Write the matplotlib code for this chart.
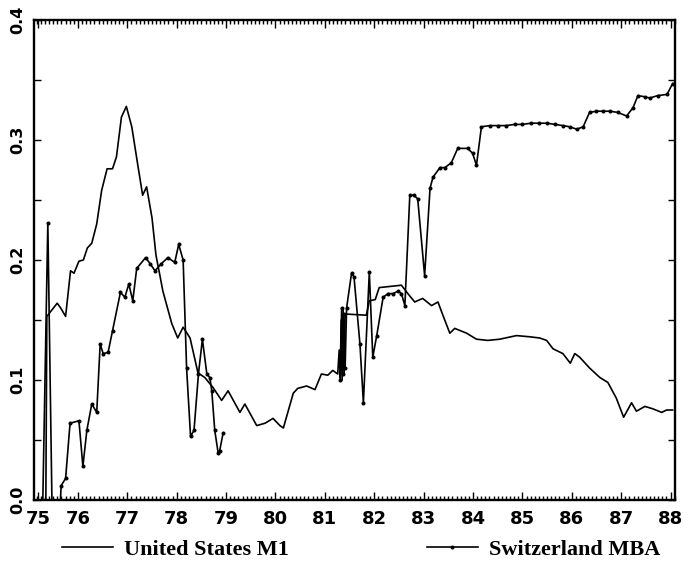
"""
 Money velocity style chart: United States M1 vs Switzerland MBA, 1975-1988
"""
import numpy as np
import matplotlib
matplotlib.use("Agg")
import matplotlib.pyplot as plt
from matplotlib.ticker import MultipleLocator, FixedLocator
from matplotlib.lines import Line2D

# United States M1 (year, value)
us_years = [75.35, 75.37, 75.58, 75.65, 75.75, 75.85, 75.92, 76.02, 76.11, 76.19,
            76.28, 76.38, 76.48, 76.59, 76.70, 76.78, 76.88, 76.98, 77.09, 77.22,
            77.31, 77.39, 77.50, 77.58, 77.66, 77.72, 77.90, 78.02, 78.13, 78.27,
            78.43, 78.57, 78.73, 78.91, 79.04, 79.28, 79.38, 79.62, 79.79, 79.95,
            80.09, 80.16, 80.36, 80.45, 80.63, 80.80, 80.93, 81.06, 81.16, 81.26,
            81.29, 81.31, 81.33, 81.35, 81.37, 81.39, 81.41, 81.84, 81.90, 82.02,
            82.10, 82.55, 82.68, 82.82, 82.98, 83.16, 83.29, 83.39, 83.53, 83.63,
            83.87, 84.07, 84.30, 84.54, 84.88, 85.15, 85.35, 85.49, 85.62, 85.82,
            85.97, 86.06, 86.16, 86.36, 86.57, 86.73, 86.90, 87.05, 87.21, 87.31,
            87.48, 87.64, 87.82, 87.92, 88.04]
us_values = [0.000, 0.153, 0.164, 0.160, 0.153, 0.191, 0.189, 0.199, 0.200, 0.210,
             0.214, 0.230, 0.258, 0.276, 0.276, 0.286, 0.319, 0.328, 0.311, 0.277,
             0.254, 0.261, 0.235, 0.204, 0.187, 0.174, 0.147, 0.135, 0.144, 0.135,
             0.106, 0.102, 0.094, 0.083, 0.091, 0.073, 0.080, 0.062, 0.064, 0.068,
             0.062, 0.060, 0.089, 0.093, 0.095, 0.092, 0.105, 0.104, 0.108, 0.105,
             0.125, 0.102, 0.150, 0.100, 0.158, 0.104, 0.155, 0.154, 0.166, 0.167,
             0.177, 0.179, 0.172, 0.165, 0.168, 0.162, 0.165, 0.154, 0.139, 0.143,
             0.139, 0.134, 0.133, 0.134, 0.137, 0.136, 0.135, 0.133, 0.126, 0.122,
             0.114, 0.122, 0.119, 0.110, 0.102, 0.098, 0.085, 0.069, 0.081, 0.074,
             0.078, 0.076, 0.073, 0.075, 0.075]

# Switzerland MBA (year, value); nan marks the gap 1979-1981
ch_years = [75.28, 75.39, 75.48, 75.62, 75.66, 75.75, 75.84, 76.02, 76.10, 76.18,
            76.28, 76.38, 76.45, 76.51, 76.61, 76.70, 76.86, 76.95, 77.03, 77.11,
            77.19, 77.37, 77.46, 77.56, 77.69, 77.82, 77.96, 78.04, 78.13, 78.20,
            78.28, 78.35, 78.44, 78.52, 78.61, 78.67, 78.71, 78.77, 78.84, 78.87,
            78.94, 80.00,
            81.31, 81.34, 81.36, 81.38, 81.41, 81.44, 81.54, 81.59, 81.71, 81.78,
            81.90, 81.97, 82.05, 82.18, 82.28, 82.38, 82.48, 82.55, 82.62, 82.72,
            82.80, 82.88, 83.02, 83.13, 83.19, 83.33, 83.43, 83.56, 83.69, 83.89,
            83.99, 84.07, 84.17, 84.34, 84.50, 84.67, 84.84, 85.00, 85.17, 85.33,
            85.50, 85.66, 85.82, 85.96, 86.10, 86.23, 86.36, 86.50, 86.63, 86.77,
            86.93, 87.11, 87.24, 87.34, 87.48, 87.58, 87.74, 87.93, 88.04]
ch_values = [-0.02, 0.231, -0.02, -0.02, 0.012, 0.018, 0.064, 0.066, 0.028, 0.058,
             0.080, 0.073, 0.130, 0.122, 0.123, 0.141, 0.173, 0.169, 0.180, 0.166,
             0.193, 0.202, 0.197, 0.191, 0.197, 0.202, 0.198, 0.213, 0.200, 0.110,
             0.053, 0.058, 0.105, 0.134, 0.105, 0.102, 0.091, 0.058, 0.039, 0.041,
             0.056, np.nan,
             0.100, 0.160, 0.105, 0.155, 0.110, 0.160, 0.189, 0.186, 0.130, 0.081,
             0.190, 0.119, 0.137, 0.169, 0.172, 0.172, 0.174, 0.172, 0.162, 0.254,
             0.254, 0.251, 0.187, 0.260, 0.269, 0.277, 0.277, 0.281, 0.293, 0.293,
             0.289, 0.279, 0.311, 0.312, 0.312, 0.312, 0.313, 0.313, 0.314, 0.314,
             0.314, 0.313, 0.312, 0.311, 0.309, 0.311, 0.323, 0.324, 0.324, 0.324,
             0.323, 0.320, 0.327, 0.337, 0.336, 0.335, 0.337, 0.338, 0.347]

year_labels = ['75', '76', '77', '78', '79', '80', '81', '82', '83', '84', '85', '86', '87', '88']
year_ticks = [75.2] + list(range(76, 89))
y_ticks = [0.0, 0.1, 0.2, 0.3, 0.4]


fig = plt.figure(figsize=(6.88, 5.67), dpi=100)
ax = fig.add_axes([34 / 688, 1 - 500 / 567, (675 - 34) / 688, (500 - 20) / 567])

ax.plot(us_years, us_values, color='black', lw=1.2, label='United States M1')
ax.plot(ch_years, ch_values, color='black', lw=1.2, marker='o', markersize=1.9,
        label='Switzerland MBA')

ax.set_xlim(75.11, 88.09)
ax.set_ylim(0, 0.4)

ax.xaxis.set_major_locator(FixedLocator(year_ticks))
ax.set_xticklabels(year_labels)
ax.xaxis.set_minor_locator(MultipleLocator(1 / 12))
ax.set_yticks(y_ticks)
ax.set_yticklabels(['%.1f' % v for v in y_ticks], rotation=90, va='center')
ax.yaxis.set_minor_locator(MultipleLocator(0.05))

ax.tick_params(axis='both', which='both', direction='in', top=True, right=True,
               width=1.0, colors='black')
ax.tick_params(axis='x', which='major', length=6, pad=7)
ax.tick_params(axis='x', which='minor', length=3)
ax.tick_params(axis='y', which='major', length=5, pad=6)
ax.tick_params(axis='y', which='minor', length=5)

for lab in ax.get_xticklabels():
    lab.set_fontsize(13)
    lab.set_fontweight('bold')
    lab.set_family('DejaVu Sans')
for lab in ax.get_yticklabels():
    lab.set_fontsize(11.5)
    lab.set_fontweight('bold')
    lab.set_family('DejaVu Sans')

for sp in ax.spines.values():
    sp.set_linewidth(1.7)

fig.legend(handles=[Line2D([], [], color='black', lw=1.2),
                    Line2D([], [], color='black', lw=1.2, marker='o', markersize=1.9)],
           labels=['United States M1', 'Switzerland MBA'],
           loc='center', bbox_to_anchor=(0.525, 1 - 550 / 567), ncol=2, frameon=False,
           handlelength=2.3, handletextpad=0.5, columnspacing=6.2,
           prop={'family': 'Liberation Serif', 'weight': 'bold', 'size': 16})

fig.savefig('out.png', dpi=100)
